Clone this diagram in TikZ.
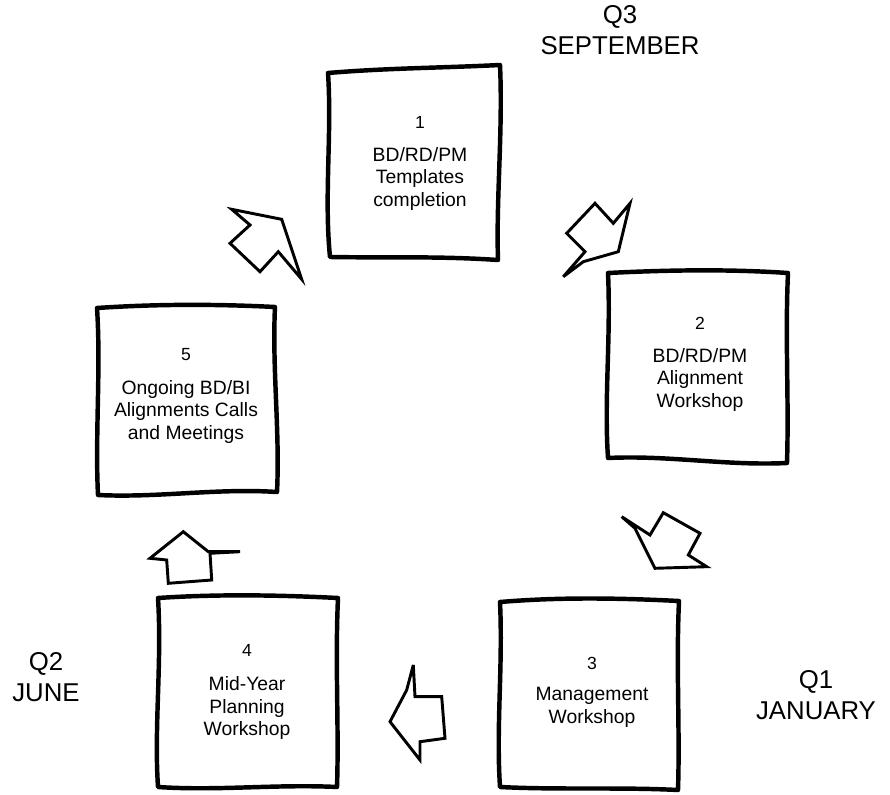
\documentclass[tikz,border=0pt]{standalone}
\usepackage{fontspec}
\setmainfont{Liberation Sans}

\begin{document}
\begin{tikzpicture}[x=0.03cm,y=-0.03cm,
    sketchbox/.style={line width=3.8pt, line join=round},
    blockarrow/.style={line width=2.5pt, line join=miter, miter limit=6},
    boxnum/.style={font=\fontsize{15}{16}\selectfont},
    boxtext/.style={align=center, font=\fontsize{16.5}{19.5}\selectfont},
    quarter/.style={align=center, font=\fontsize{22}{27}\selectfont}]

        \useasboundingbox (0,0) rectangle (890,795);

        % corners of the five boxes
        \coordinate (b1a) at (328,73);
        \coordinate (b1b) at (500,65);
        \coordinate (b1c) at (498,260);
        \coordinate (b1d) at (330,257);

        \coordinate (b2a) at (608,273);
        \coordinate (b2b) at (788,273);
        \coordinate (b2c) at (787,463);
        \coordinate (b2d) at (608,458);

        \coordinate (b3a) at (500,602);
        \coordinate (b3b) at (679,601);
        \coordinate (b3c) at (678,790);
        \coordinate (b3d) at (500,787);

        \coordinate (b4a) at (158,598);
        \coordinate (b4b) at (338,598);
        \coordinate (b4c) at (337,787);
        \coordinate (b4d) at (158,787);

        \coordinate (b5a) at (97,308);
        \coordinate (b5b) at (275,307);
        \coordinate (b5c) at (277,492);
        \coordinate (b5d) at (98,495);

        % boxes, slightly bent edges
        \draw[sketchbox] (b1a) .. controls +(60,-5) and +(-60,3) .. (b1b)
            .. controls +(3,65) and +(-2,-60) .. (b1c)
            .. controls +(-60,-4) and +(60,1) .. (b1d)
            .. controls +(-6,-60) and +(4,60) .. cycle;
        \draw[sketchbox] (b2a) .. controls +(60,-3) and +(-60,-4) .. (b2b)
            .. controls +(-3,65) and +(2,-65) .. (b2c)
            .. controls +(-60,3) and +(60,-3) .. (b2d)
            .. controls +(-4,-60) and +(3,65) .. cycle;
        \draw[sketchbox] (b3a) .. controls +(60,-5) and +(-60,-3) .. (b3b)
            .. controls +(-3,65) and +(2,-60) .. (b3c)
            .. controls +(-60,-3) and +(60,3) .. (b3d)
            .. controls +(-4,-60) and +(3,65) .. cycle;
        \draw[sketchbox] (b4a) .. controls +(60,-4) and +(-60,-3) .. (b4b)
            .. controls +(-3,65) and +(2,-60) .. (b4c)
            .. controls +(-60,-3) and +(60,4) .. (b4d)
            .. controls +(-4,-60) and +(4,65) .. cycle;
        \draw[sketchbox] (b5a) .. controls +(60,-4) and +(-60,-3) .. (b5b)
            .. controls +(-3,60) and +(3,-60) .. (b5c)
            .. controls +(-60,-4) and +(60,3) .. (b5d)
            .. controls +(-3,-60) and +(4,60) .. cycle;

        % box texts
        \node[boxnum] (n1) at (420,122) {1};
        \node[boxtext] (t1) at (420,179) {BD/RD/PM\\Templates\\completion};
        \node[boxnum] (n2) at (700,323) {2};
        \node[boxtext] (t2) at (700,380) {BD/RD/PM\\Alignment\\Workshop};
        \node[boxnum] (n3) at (592,663) {3};
        \node[boxtext] (t3) at (592,707) {Management\\Workshop};
        \node[boxnum] (n4) at (247,650) {4};
        \node[boxtext] (t4) at (247,708) {Mid-Year\\Planning\\Workshop};
        \node[boxnum] (n5) at (186,355) {5};
        \node[boxtext] (t5) at (186,412) {Ongoing BD/BI\\Alignments Calls\\and Meetings};

        % quarters
        \node[quarter] (q3) at (620,30) {Q3\\SEPTEMBER};
        \node[quarter] (q2) at (46,677) {Q2\\JUNE};
        \node[quarter] (q1) at (816,695) {Q1\\JANUARY};

        % block arrows between the boxes
        \draw[blockarrow] (231.7,209.3) -- (281.7,219.3) -- (301.7,279.3) -- (278.3,251.7)
            -- (260,271.7) -- (230,243.3) -- (250,225) -- cycle;
        \draw[blockarrow] (595,203.3) -- (613.3,223.3) -- (630,203.3) -- (618.3,251.7)
            -- (583.3,261.7) -- (563.3,276.7) -- (585,251.7) -- (566.7,233.3) -- cycle;
        \draw[blockarrow] (621.7,516.7) -- (650,535) -- (663.3,512.7) -- (700,533.3)
            -- (688.3,555) -- (706.7,566.7) -- (655,568.3) -- (635,528.3) -- cycle;
        \draw[blockarrow] (413.3,665) -- (415,696.7) -- (441.7,696.7) -- (445,738.3)
            -- (420,741.7) -- (420,760) -- (390,721.7) -- (406.7,690) -- cycle;
        \draw[blockarrow] (150,558.3) -- (183.3,531.7) -- (208.3,551.7) -- (240,551.7)
            -- (210,553.3) -- (211.7,580) -- (168.3,583.3) -- (166.7,560) -- cycle;
\end{tikzpicture}
\end{document}
